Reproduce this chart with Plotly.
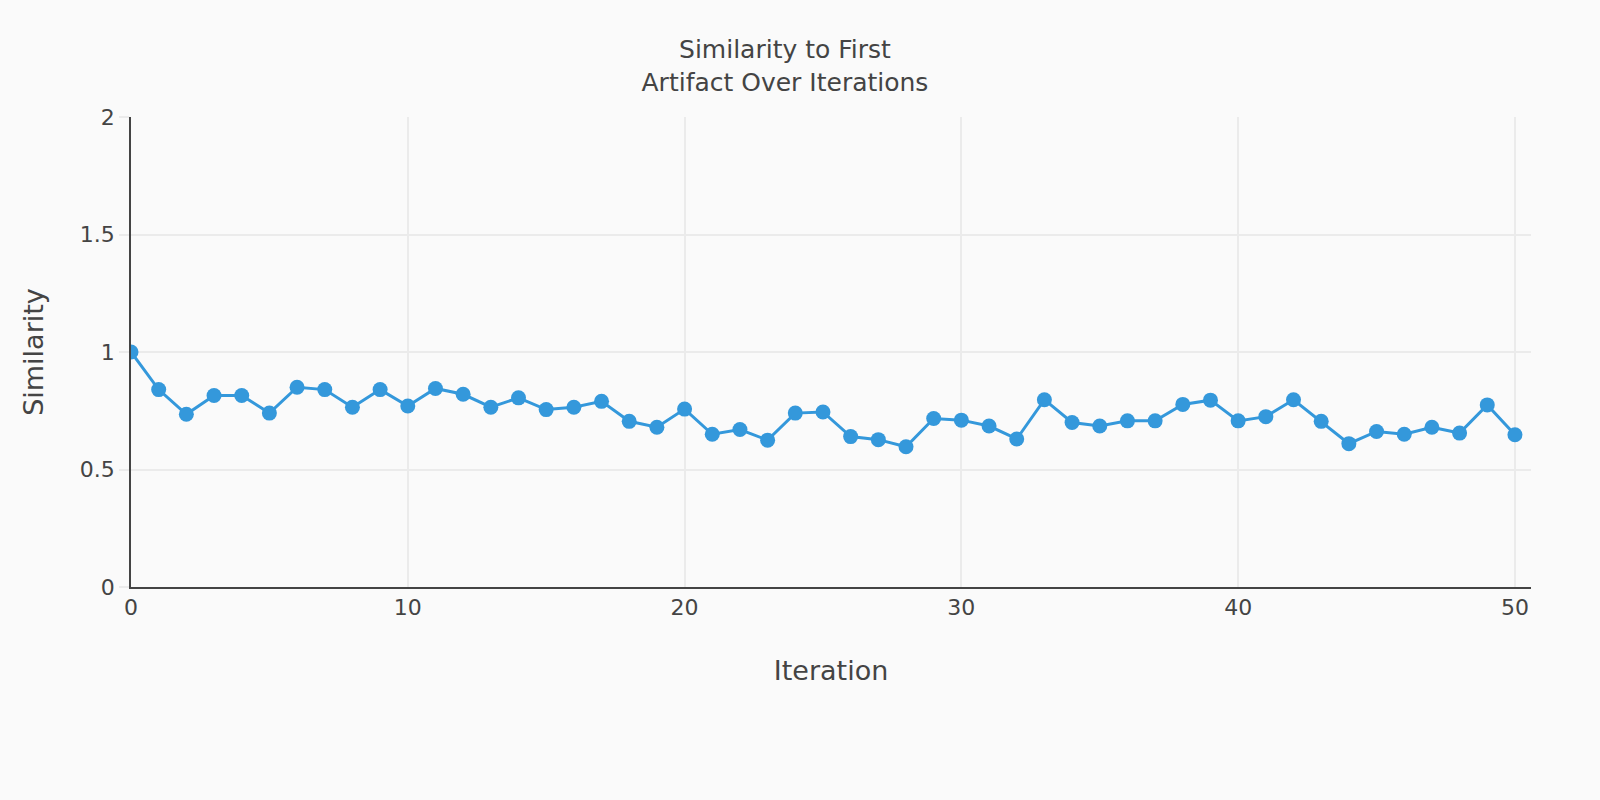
import plotly.graph_objects as go

iterations = list(range(51))
similarity = [1.0, 0.84, 0.735, 0.815, 0.815, 0.74, 0.85, 0.84, 0.765, 0.84,
              0.77, 0.845, 0.82, 0.765, 0.805, 0.755, 0.765, 0.79, 0.705, 0.68,
              0.757, 0.65, 0.67, 0.625, 0.74, 0.745, 0.64, 0.627, 0.597, 0.717,
              0.71, 0.685, 0.63, 0.797, 0.7, 0.685, 0.707, 0.707, 0.777, 0.795,
              0.707, 0.725, 0.797, 0.705, 0.61, 0.662, 0.65, 0.68, 0.655, 0.775,
              0.648]
x_ticks = [0, 10, 20, 30, 40, 50]
y_ticks = [0, 0.5, 1, 1.5, 2]

fig = go.Figure(go.Scatter(
    x=iterations, y=similarity, mode="lines+markers",
    line=dict(color="#3498db", width=3),
    marker=dict(color="#3498db", size=15),
))

fig.update_layout(
    width=1600, height=800,
    paper_bgcolor="#fafafa", plot_bgcolor="#fafafa",
    margin=dict(l=131, r=69, t=117, b=213),
    font=dict(family="Verdana, DejaVu Sans, sans-serif", color="#444", size=22),
    title=dict(text="Similarity to First<br>Artifact Over Iterations", x=0.4906, xanchor="center",
               y=0.927, yanchor="top", font=dict(size=25)),
    showlegend=False,
    xaxis=dict(title=dict(text="Iteration", font=dict(size=27), standoff=42),
               range=[0, 50.58], tickvals=x_ticks,
               showgrid=True, gridcolor="#ebebeb", gridwidth=2,
               showline=True, linecolor="#444", linewidth=1.5,
               ticks="", zeroline=False, tickfont=dict(size=22)),
    yaxis=dict(title=dict(text="Similarity", font=dict(size=27), standoff=28),
               range=[0, 2], tickvals=y_ticks,
               showgrid=True, gridcolor="#ebebeb", gridwidth=2,
               showline=True, linecolor="#444", linewidth=1.5,
               ticks="outside", ticklen=10, tickcolor="#ebebeb", tickwidth=2,
               zeroline=False, tickfont=dict(size=22)),
)

fig.write_html("out.html", config={"displayModeBar": False},
               post_script="document.body.style.margin='0';")
